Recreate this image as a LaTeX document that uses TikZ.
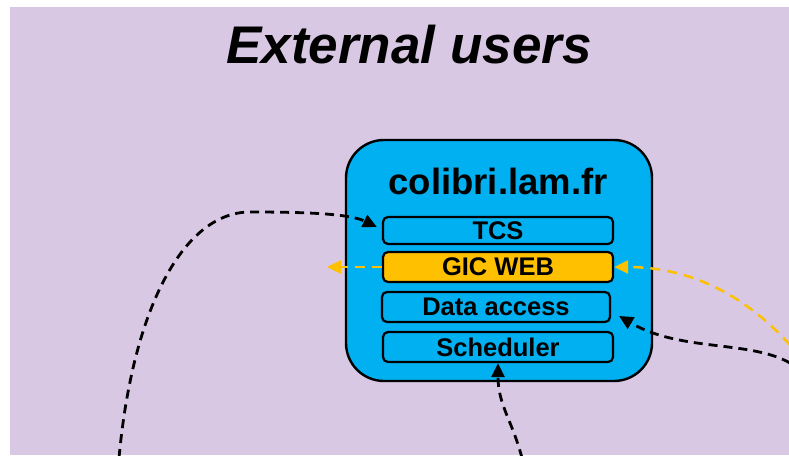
\documentclass[tikz,border=0pt]{standalone}
\usepackage{fontspec}
\setmainfont{Liberation Sans}
\usetikzlibrary{arrows.meta}
\definecolor{bgpurple}{HTML}{D9C8E4}
\definecolor{boxblue}{HTML}{00B0F0}
\definecolor{gicorange}{HTML}{FFC000}
\tikzset{
  layer/.style={draw=black, line width=2.2pt, rounded corners=5pt, fill=boxblue,
    minimum width=230pt, inner sep=0pt,
    font=\fontsize{25.5}{28}\selectfont\bfseries},
  blackflow/.style={draw=black, line width=2.8pt, dash pattern=on 9pt off 6pt,
    -{Triangle[length=14pt,width=13pt]}},
  yellowflow/.style={draw=gicorange, line width=2.5pt, dash pattern=on 10pt off 7pt,
    -{Triangle[length=14pt,width=13pt]}},
}
\begin{document}
\begin{tikzpicture}[x=1pt,y=-1pt]
\useasboundingbox (0,0) rectangle (789,455);
\fill[bgpurple] (10,7) rectangle (789,455);
\node[font=\fontsize{53}{60}\selectfont\bfseries\itshape, anchor=base, inner sep=0pt] (title) at (409,63) {External users};
\node[draw=black, line width=2.4pt, fill=boxblue, rounded corners=38pt,
  minimum width=306pt, minimum height=241pt, inner sep=0pt] (host) at (499,260.5) {};
\node[font=\fontsize{36.5}{40}\selectfont\bfseries, anchor=base, inner sep=0pt] (hostname) at (498,194) {colibri.lam.fr};
\node[layer, minimum height=27pt] (tcs) at (498,230.5) {TCS};
\node[layer, minimum height=30pt, fill=gicorange] (gic) at (498,267) {GIC WEB};
\node[layer, minimum height=30pt, minimum width=228pt] (data) at (496,307) {Data access};
\node[layer, minimum height=30pt] (sched) at (498,347) {Scheduler};
\coordinate (s1) at (119,458);
\coordinate (yl) at (327,267);
\coordinate (yr) at (790,345);
\coordinate (br) at (790,363);
\coordinate (bb) at (522,458);
\draw[blackflow] (s1) .. controls (133,305) and (185,212) .. (250,212)
  .. controls (310,212) and (350,214) .. ([shift={(-5,-3.5)}]tcs.west);
\draw[yellowflow] (gic.west) -- (yl);
\draw[yellowflow] (yr) .. controls (745,295) and (690,267) .. (gic.east);
\draw[blackflow] (br) .. controls (750,340) and (680,352) .. ([shift={(8,9)}]data.east);
\draw[blackflow] (bb) .. controls (512,420) and (498,405) .. (sched.south);
\end{tikzpicture}
\end{document}
